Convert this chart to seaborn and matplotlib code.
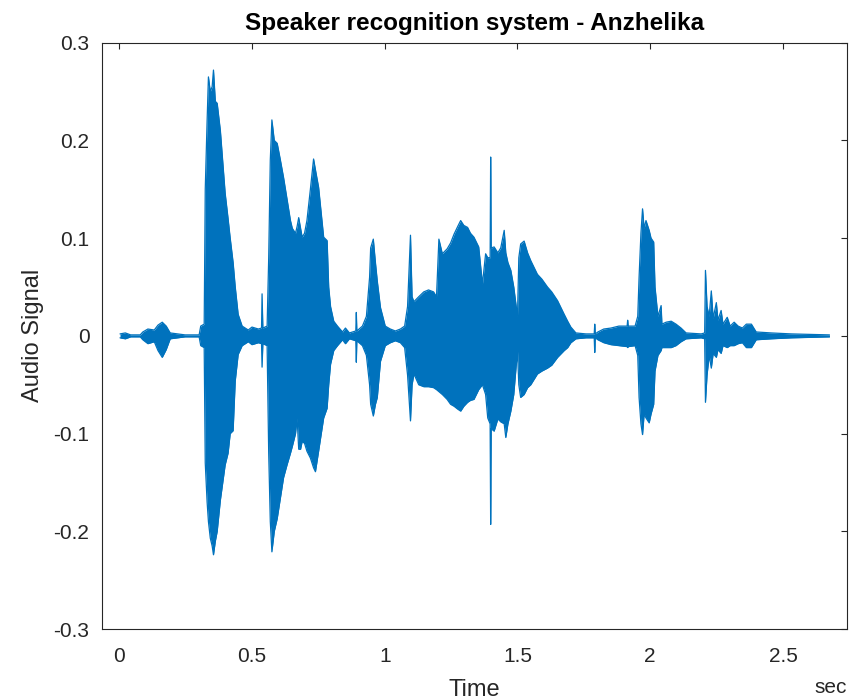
import matplotlib
matplotlib.use("Agg")
import matplotlib.pyplot as plt
import seaborn as sns
import pandas as pd
import numpy as np

# ---- data: waveform envelope (time in s, amplitude) ----
time = [0.003, 0.023, 0.043, 0.079, 0.089, 0.108, 0.132, 0.146, 0.162, 0.177,
        0.192, 0.248, 0.301, 0.307, 0.320, 0.324, 0.331, 0.336, 0.343, 0.350,
        0.355, 0.362, 0.369, 0.381, 0.399, 0.410, 0.418, 0.429, 0.437, 0.448,
        0.463, 0.486, 0.500, 0.524, 0.536, 0.538, 0.541, 0.557, 0.563, 0.569,
        0.575, 0.584, 0.595, 0.607, 0.619, 0.632, 0.645, 0.652, 0.664, 0.670,
        0.676, 0.683, 0.689, 0.698, 0.707, 0.720, 0.732, 0.739, 0.751, 0.761,
        0.770, 0.783, 0.789, 0.796, 0.808, 0.822, 0.841, 0.852, 0.867, 0.891,
        0.893, 0.895, 0.916, 0.931, 0.943, 0.947, 0.957, 0.965, 0.972, 0.984,
        1.002, 1.021, 1.040, 1.059, 1.075, 1.086, 1.097, 1.103, 1.110, 1.128,
        1.147, 1.165, 1.184, 1.195, 1.204, 1.217, 1.235, 1.248, 1.261, 1.275,
        1.286, 1.298, 1.312, 1.323, 1.336, 1.354, 1.368, 1.380, 1.388, 1.397,
        1.399, 1.401, 1.412, 1.426, 1.437, 1.450, 1.456, 1.464, 1.475, 1.486,
        1.500, 1.505, 1.512, 1.525, 1.538, 1.550, 1.575, 1.592, 1.613, 1.629,
        1.651, 1.676, 1.689, 1.701, 1.720, 1.758, 1.789, 1.791, 1.793, 1.803,
        1.825, 1.852, 1.882, 1.913, 1.915, 1.917, 1.943, 1.953, 1.958, 1.965,
        1.971, 1.977, 1.984, 1.996, 2.003, 2.013, 2.018, 2.029, 2.041, 2.044,
        2.060, 2.079, 2.097, 2.116, 2.135, 2.192, 2.205, 2.208, 2.214, 2.222,
        2.230, 2.237, 2.249, 2.255, 2.267, 2.274, 2.290, 2.301, 2.316, 2.331,
        2.347, 2.362, 2.381, 2.399, 2.456, 2.532, 2.607, 2.675]

upper = [0.002, 0.003, 0.001, 0.001, 0.004, 0.007, 0.006, 0.011, 0.014, 0.010,
         0.003, 0.001, 0.001, 0.010, 0.012, 0.150, 0.220, 0.265, 0.250, 0.255,
         0.272, 0.240, 0.238, 0.210, 0.146, 0.120, 0.100, 0.075, 0.050, 0.022,
         0.010, 0.006, 0.009, 0.007, 0.008, 0.043, 0.008, 0.010, 0.080, 0.180,
         0.221, 0.200, 0.197, 0.180, 0.162, 0.140, 0.118, 0.110, 0.105, 0.112,
         0.121, 0.110, 0.101, 0.105, 0.118, 0.150, 0.181, 0.170, 0.152, 0.125,
         0.101, 0.0975, 0.050, 0.030, 0.015, 0.010, 0.004, 0.008, 0.003, 0.005,
         0.024, 0.005, 0.010, 0.020, 0.060, 0.090, 0.099, 0.075, 0.056, 0.029,
         0.010, 0.007, 0.005, 0.007, 0.010, 0.030, 0.103, 0.040, 0.035, 0.040,
         0.045, 0.047, 0.045, 0.040, 0.099, 0.084, 0.089, 0.095, 0.104, 0.112,
         0.118, 0.113, 0.111, 0.105, 0.101, 0.091, 0.053, 0.084, 0.080, 0.080,
         0.183, 0.090, 0.091, 0.085, 0.090, 0.108, 0.085, 0.075, 0.067, 0.050,
         0.020, 0.080, 0.094, 0.097, 0.085, 0.077, 0.063, 0.058, 0.050, 0.045,
         0.036, 0.022, 0.015, 0.009, 0.003, 0.002, 0.002, 0.012, 0.002, 0.004,
         0.007, 0.008, 0.010, 0.010, 0.016, 0.010, 0.010, 0.020, 0.060, 0.105,
         0.130, 0.110, 0.118, 0.108, 0.100, 0.096, 0.050, 0.020, 0.031, 0.012,
         0.014, 0.015, 0.012, 0.008, 0.003, 0.002, 0.003, 0.067, 0.030, 0.020,
         0.046, 0.018, 0.034, 0.016, 0.026, 0.012, 0.019, 0.010, 0.014, 0.010,
         0.008, 0.012, 0.012, 0.004, 0.003, 0.002, 0.0015, 0.001]

lower = [-0.002, -0.003, -0.001, -0.001, -0.004, -0.008, -0.006, -0.015, -0.022, -0.014,
         -0.003, -0.001, -0.001, -0.010, -0.012, -0.130, -0.170, -0.190, -0.207, -0.215,
         -0.224, -0.210, -0.200, -0.168, -0.132, -0.120, -0.100, -0.097, -0.046, -0.019,
         -0.010, -0.006, -0.009, -0.007, -0.008, -0.032, -0.008, -0.010, -0.120, -0.190,
         -0.221, -0.200, -0.187, -0.166, -0.145, -0.132, -0.120, -0.113, -0.100, -0.084,
         -0.116, -0.116, -0.108, -0.110, -0.118, -0.125, -0.135, -0.139, -0.118, -0.100,
         -0.084, -0.074, -0.050, -0.029, -0.015, -0.010, -0.004, -0.008, -0.003, -0.005,
         -0.027, -0.005, -0.010, -0.020, -0.050, -0.070, -0.082, -0.070, -0.063, -0.026,
         -0.010, -0.007, -0.005, -0.007, -0.012, -0.040, -0.087, -0.050, -0.039, -0.050,
         -0.052, -0.052, -0.053, -0.055, -0.057, -0.060, -0.065, -0.070, -0.072, -0.075,
         -0.077, -0.072, -0.068, -0.066, -0.065, -0.055, -0.050, -0.060, -0.084, -0.090,
         -0.193, -0.095, -0.0975, -0.085, -0.088, -0.090, -0.104, -0.090, -0.077, -0.060,
         -0.015, -0.050, -0.063, -0.060, -0.053, -0.050, -0.039, -0.036, -0.033, -0.030,
         -0.022, -0.015, -0.012, -0.007, -0.003, -0.002, -0.002, -0.017, -0.002, -0.004,
         -0.007, -0.009, -0.010, -0.011, -0.012, -0.011, -0.010, -0.020, -0.063, -0.090,
         -0.101, -0.080, -0.084, -0.089, -0.080, -0.070, -0.036, -0.020, -0.015, -0.012,
         -0.012, -0.012, -0.010, -0.006, -0.003, -0.002, -0.003, -0.068, -0.040, -0.020,
         -0.033, -0.018, -0.022, -0.014, -0.018, -0.010, -0.012, -0.010, -0.010, -0.008,
         -0.007, -0.012, -0.012, -0.004, -0.003, -0.002, -0.0015, -0.001]

x_ticks = [0, 0.5, 1, 1.5, 2, 2.5]
x_tick_labels = ["0", "0.5", "1", "1.5", "2", "2.5"]
y_ticks = [-0.3, -0.2, -0.1, 0, 0.1, 0.2, 0.3]
y_tick_labels = ["-0.3", "-0.2", "-0.1", "0", "0.1", "0.2", "0.3"]

title = "Speaker recognition system - Anzhelika"
x_label = "Time"
x_unit = "sec"
y_label = "Audio Signal"

# ---- style ----
sns.set_style("white")
plt.rcParams["font.family"] = ["Liberation Sans", "DejaVu Sans"]
plt.rcParams["axes.unicode_minus"] = False

BLUE = "#0072BD"
DARK = "#262626"

fig = plt.figure(figsize=(8.59, 6.99), dpi=100)
ax = fig.add_axes([0.1187, 0.1001, 0.8673, 0.8388])

df = pd.DataFrame({
    "t": time + time,
    "amp": upper + lower,
    "edge": ["upper"] * len(time) + ["lower"] * len(time),
})
ax.fill_between(time, upper, lower, color=BLUE, linewidth=0)
sns.lineplot(data=df, x="t", y="amp", units="edge", estimator=None,
             color=BLUE, linewidth=0.9, ax=ax, legend=False)

ax.set_xlim(-0.065, 2.741)
ax.set_ylim(-0.3, 0.3)
ax.set_xticks(x_ticks)
ax.set_xticklabels(x_tick_labels)
ax.set_yticks(y_ticks)
ax.set_yticklabels(y_tick_labels)

for s in ax.spines.values():
    s.set_visible(True)
    s.set_color(DARK)
    s.set_linewidth(0.8)

ax.tick_params(axis="both", direction="in", length=4.5, width=0.8,
               colors=DARK, labelsize=15, top=True, right=True,
               labeltop=False, labelright=False)
ax.tick_params(axis="x", pad=13)
ax.tick_params(axis="y", pad=9)

ax.set_title(title, fontsize=17.5, fontweight="bold", color="black", pad=9)
ax.set_xlabel(x_label, fontsize=17, color=DARK, labelpad=9)
ax.set_ylabel(y_label, fontsize=17, color=DARK, labelpad=7)
ax.text(1.0, -0.1005, x_unit, transform=ax.transAxes, ha="right", va="center",
        fontsize=15, color=DARK)

fig.savefig("out.png", dpi=100)
